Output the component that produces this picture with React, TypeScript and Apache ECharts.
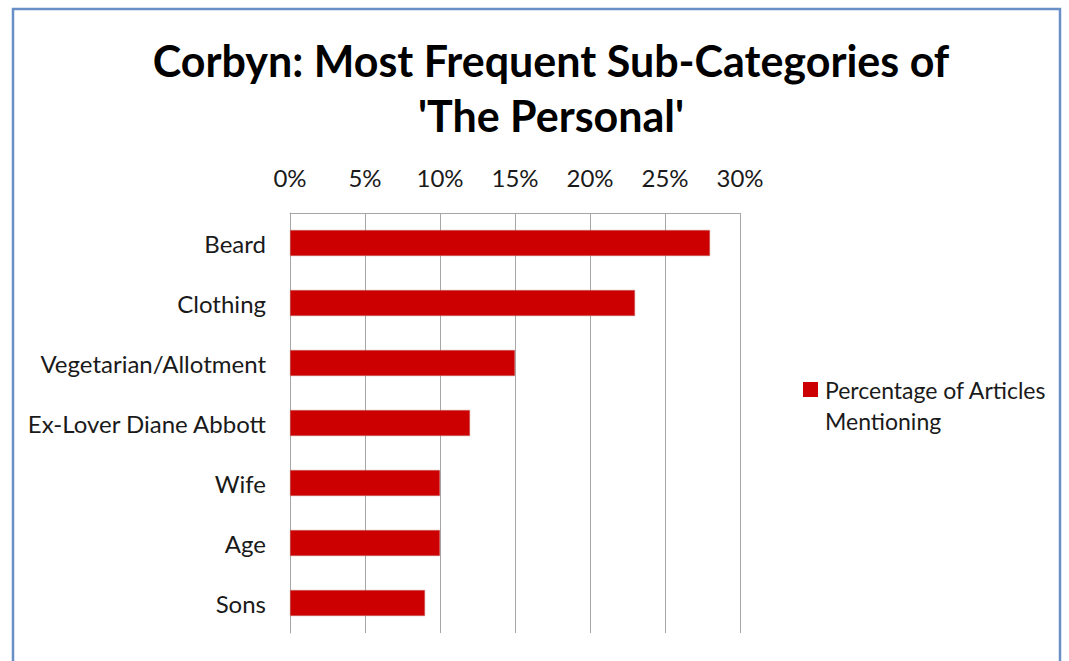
import React, { useEffect, useRef } from "react";
import * as echarts from "echarts";

const categories = ["Beard", "Clothing", "Vegetarian/Allotment", "Ex-Lover Diane Abbott", "Wife", "Age", "Sons"];
const values = [28, 23, 15, 12, 10, 10, 9];
const seriesName = "Percentage of Articles\nMentioning";
const titleText = "Corbyn: Most Frequent Sub-Categories of\n'The Personal'";

export default function App() {
  const ref = useRef<HTMLDivElement>(null);
  useEffect(() => {
    if (!ref.current) return;
    const chart = echarts.init(ref.current, null, { renderer: "svg" });
    const font = "Lato, 'Open Sans', sans-serif";
    chart.setOption({
      animation: false,
      backgroundColor: "#ffffff",
      textStyle: { fontFamily: font },
      title: {
        text: titleText,
        left: 546,
        top: 28,
        textAlign: "center",
        textStyle: { fontSize: 43, fontWeight: "bold", color: "#000", lineHeight: 55, fontFamily: font },
      },
      graphic: [
        {
          type: "rect",
          shape: { x: 13, y: 9, width: 1047, height: 700 },
          style: { fill: "none", stroke: "#6a8fc6", lineWidth: 2.5 },
          silent: true,
          z: 100,
        },
      ],
      legend: {
        left: 798,
        top: 338,
        orient: "vertical",
        itemWidth: 15,
        itemHeight: 15,
        itemGap: 6,
        icon: "rect",
        data: [seriesName],
        formatter: (name: string) => "\n" + name,
        itemStyle: { borderWidth: 0 },
        textStyle: { fontSize: 23, color: "#1a1a1a", lineHeight: 31, fontFamily: font, padding: [0, 0, 0, 2] },
      },
      grid: { left: 290, top: 213, width: 450, height: 420, containLabel: false },
      xAxis: {
        type: "value",
        position: "top",
        min: 0,
        max: 30,
        interval: 5,
        axisLine: { show: true, lineStyle: { color: "#a6a6a6", width: 1 } },
        axisTick: { show: false },
        splitLine: { show: true, lineStyle: { color: "#a6a6a6", width: 1 } },
        axisLabel: { formatter: "{value}%", fontSize: 24, color: "#1a1a1a", margin: 24, fontFamily: font },
      },
      yAxis: {
        type: "category",
        inverse: true,
        data: categories,
        axisLine: { show: true, onZero: false, lineStyle: { color: "#a6a6a6", width: 1 } },
        axisTick: { show: false },
        axisLabel: { fontSize: 24, color: "#1a1a1a", margin: 24, fontFamily: font },
      },
      series: [
        {
          type: "bar",
          name: seriesName,
          data: values,
          barWidth: 26,
          itemStyle: { color: "#cc0000", borderColor: "#c07070", borderWidth: 0.5 },
        },
      ],
    });
    return () => chart.dispose();
  }, []);
  return (
    <div
      ref={ref}
      style={{ position: "fixed", left: 0, top: 0, width: 1069, height: 661 }}
    />
  );
}
